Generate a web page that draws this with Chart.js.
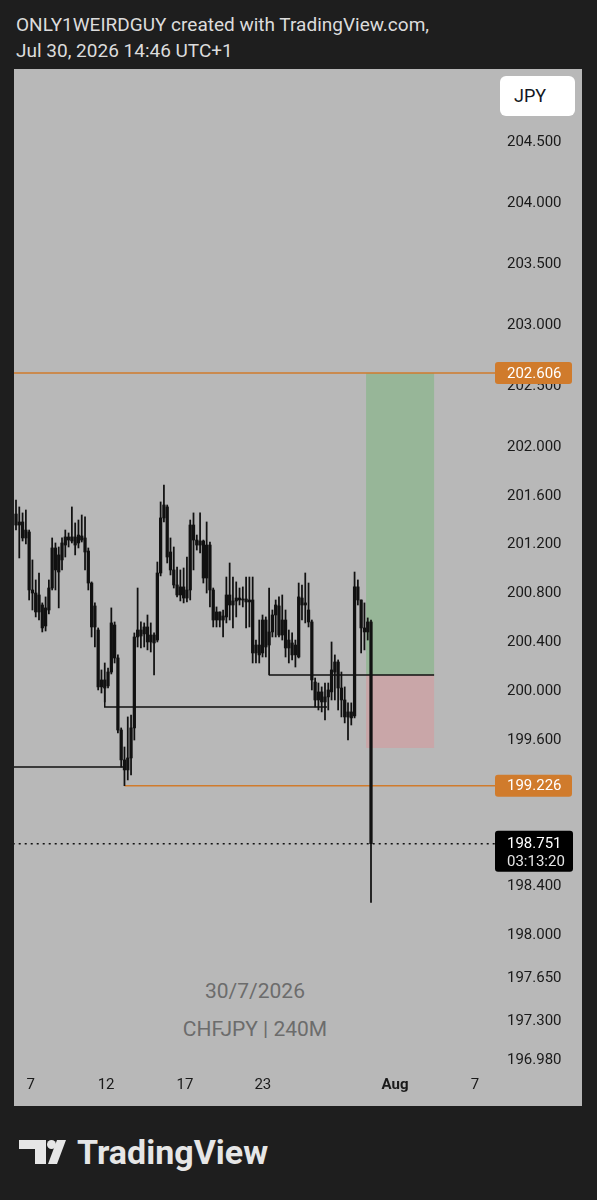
<!DOCTYPE html>
<html>
<head>
<meta charset="UTF-8">
<title>CHFJPY 240M</title>
<script src="https://cdn.jsdelivr.net/npm/chart.js@4.4.1/dist/chart.umd.min.js"></script>
<style>
  body { margin: 0; width: 597px; height: 1200px; overflow: hidden; background: #1e1e1e; font-family: Roboto, "Noto Sans", sans-serif; }
  #head { position: absolute; left: 16px; top: 12px; color: #dcdcdc; font-size: 19px; line-height: 26px; }
  #panel { position: absolute; left: 14px; top: 69px; width: 568px; height: 1037px; background: #b8b8b8; }
  #cur { position: absolute; left: 486px; top: 7px; width: 75px; height: 40px; background: #fff; border-radius: 6px;
         font-size: 18px; line-height: 40px; color: #131722; box-sizing: border-box; padding-left: 14px; }
  .wm { position: absolute; left: 0; width: 482px; text-align: center; color: #6c6c6c; font-size: 21px; }
  #chart { position: absolute; left: 0; top: 0; }
  #logo { position: absolute; left: 19px; top: 1140px; }
  #brand { position: absolute; left: 77px; top: 1135px; color: #e6e6e6; font-size: 34px; line-height: 34px; font-weight: bold; }
</style>
</head>
<body>
<div id="head">ONLY1WEIRDGUY created with TradingView.com,<br>Jul 30, 2026 14:46 UTC+1</div>

<div id="panel">
    <div class="wm" style="top: 910px;">30/7/2026</div>
    <div class="wm" style="top: 948px;">CHFJPY | 240M</div>
    <canvas id="chart" width="568" height="1037"></canvas>
    <div id="cur">JPY</div>
</div>

<svg id="logo" width="47" height="24" viewBox="0 0 47 24">
    <path d="M0 0 H27 V24 H16 V9 H0 Z" fill="#e6e6e6"/>
    <circle cx="32.5" cy="4.5" r="4.5" fill="#e6e6e6"/>
    <path d="M38 0 H47 L38 24 H29 Z" fill="#e6e6e6"/>
</svg>
<div id="brand">TradingView</div>

<script>
    // 4h candles, index 0 = first visible bar
    const opens = [201.451, 201.361, 201.386, 201.255, 201.304, 200.829, 200.804, 200.649, 200.706, 200.534,
        200.665, 200.845, 201.173, 200.976, 201.075, 201.197, 201.263, 201.230, 201.263, 201.214,
        201.271, 201.255, 201.148, 200.886, 200.526, 200.501, 200.035, 200.092, 200.043, 200.157,
        200.542, 200.272, 199.682, 199.437, 199.355, 199.453, 199.699, 200.444, 200.501, 200.469,
        200.526, 200.403, 200.460, 200.419, 200.968, 201.419, 201.509, 201.140, 200.993, 200.870,
        200.788, 200.854, 200.763, 200.829, 201.361, 201.238, 201.197, 201.230, 200.927, 201.197,
        200.829, 200.583, 200.649, 200.583, 200.608, 200.788, 200.706, 200.739, 200.763, 200.747,
        200.755, 200.731, 200.747, 200.313, 200.378, 200.313, 200.583, 200.378, 200.485, 200.624,
        200.698, 200.460, 200.583, 200.354, 200.395, 200.297, 200.280, 200.763, 200.706, 200.665,
        200.567, 200.075, 199.928, 199.994, 199.912, 199.953, 199.994, 200.157, 200.239, 200.026,
        199.928, 199.789, 199.830, 199.797, 200.854, 200.747, 200.518, 200.485, 200.567];
    const highs = [201.566, 201.509, 201.460, 201.484, 201.320, 201.075, 200.911, 200.968, 200.723, 200.772,
        200.911, 201.255, 201.214, 201.181, 201.255, 201.320, 201.296, 201.509, 201.378, 201.402,
        201.443, 201.427, 201.173, 200.895, 200.723, 200.518, 200.174, 200.231, 200.190, 200.682,
        200.567, 200.297, 199.699, 199.543, 199.789, 199.805, 200.477, 200.845, 200.567, 200.559,
        200.624, 200.559, 200.477, 201.058, 201.550, 201.689, 201.525, 201.255, 201.181, 201.017,
        200.993, 201.009, 201.099, 201.402, 201.460, 201.279, 201.460, 201.238, 201.386, 201.222,
        200.845, 200.690, 200.649, 200.665, 200.935, 201.050, 200.935, 200.895, 200.845, 200.854,
        200.935, 200.935, 200.935, 200.419, 200.583, 200.624, 200.608, 200.845, 200.665, 200.747,
        200.772, 200.788, 200.665, 200.501, 200.477, 200.419, 200.886, 200.870, 200.968, 200.886,
        200.583, 200.108, 200.067, 200.035, 200.067, 200.067, 200.403, 200.297, 200.256, 200.157,
        200.035, 199.904, 199.904, 200.976, 200.911, 200.747, 200.723, 200.600, 200.583];
    const lows = [201.320, 201.091, 201.230, 201.206, 200.747, 200.665, 200.608, 200.583, 200.485, 200.493,
        200.633, 200.829, 200.829, 200.682, 200.993, 201.099, 201.181, 201.214, 201.116, 201.173,
        201.222, 200.993, 200.829, 200.444, 200.362, 200.010, 199.985, 199.912, 200.026, 200.141,
        200.231, 199.658, 199.379, 199.226, 199.273, 199.314, 199.600, 200.362, 200.354, 200.362,
        200.338, 200.321, 200.133, 200.403, 200.944, 201.386, 201.050, 200.952, 200.845, 200.772,
        200.739, 200.723, 200.731, 200.747, 200.993, 201.156, 201.132, 200.886, 200.804, 200.690,
        200.526, 200.526, 200.526, 200.444, 200.559, 200.583, 200.518, 200.608, 200.706, 200.690,
        200.518, 200.526, 200.231, 200.231, 200.231, 200.280, 200.280, 200.133, 200.444, 200.444,
        200.444, 200.419, 200.280, 200.231, 200.256, 200.198, 200.272, 200.583, 200.559, 200.526,
        200.010, 199.871, 199.846, 199.830, 199.764, 199.846, 199.928, 199.928, 199.846, 199.789,
        199.740, 199.600, 199.723, 199.781, 200.706, 200.313, 200.338, 200.419, 198.270];
    const closes = [201.361, 201.386, 201.255, 201.320, 200.829, 200.804, 200.649, 200.788, 200.518, 200.682,
        200.845, 201.173, 200.993, 201.116, 201.214, 201.263, 201.238, 201.263, 201.197, 201.279,
        201.238, 201.140, 200.886, 200.526, 200.698, 200.035, 200.092, 200.026, 200.157, 200.559,
        200.272, 199.682, 199.437, 199.355, 199.453, 199.699, 200.444, 200.501, 200.452, 200.526,
        200.403, 200.460, 200.395, 200.968, 201.419, 201.525, 201.099, 200.993, 200.870, 200.788,
        200.854, 200.763, 200.829, 201.361, 201.238, 201.197, 201.230, 200.927, 201.197, 200.829,
        200.583, 200.649, 200.583, 200.616, 200.788, 200.706, 200.739, 200.763, 200.747, 200.755,
        200.731, 200.747, 200.313, 200.378, 200.297, 200.583, 200.362, 200.485, 200.624, 200.706,
        200.460, 200.583, 200.354, 200.419, 200.297, 200.378, 200.772, 200.706, 200.723, 200.567,
        200.092, 199.928, 199.994, 199.912, 199.953, 200.010, 200.174, 200.239, 200.026, 199.928,
        199.789, 199.830, 199.781, 200.854, 200.747, 200.518, 200.485, 200.567, 198.751];

    // price scale labels
    const priceTicks = [204.5, 204, 203.5, 203, 202.5, 202, 201.6, 201.2, 200.8, 200.4, 200, 199.6,
        198.4, 198, 197.65, 197.3, 196.98];
    // date labels (bar index where each date falls)
    const dateTickPos = [4.5, 27.4, 51.4, 75.1, 115.3, 139.6];
    const dateTickText = ['7', '12', '17', '23', 'Aug', '7'];

    // drawings
    const levelA = [[-1, 199.379], [33, 199.379]];
    const levelB = [[27, 200.035], [27, 199.871], [94.6, 199.871]];
    const levelC = [[77, 200.133], [127.2, 200.133]];
    const targetPrice = 202.606;
    const lowPrice = 199.226;
    const lowStart = 33;
    const lastPrice = 198.751;
    const countdown = '03:13:20';
    const posBars = [106.5, 127.2];      // long position tool: start / end bar
    const posEntry = 200.133;
    const posStop = 199.535;

    const INK = '#111111';
    const ORANGE = '#d07b2c';

    function pts(arr) {
        return arr.map(p => ({ x: p[0], y: p[1] }));
    }

    function lineSet(data, color, width, extra) {
        return Object.assign({
            type: 'line', data: data, borderColor: color, borderWidth: width,
            pointRadius: 0, tension: 0, fill: false
        }, extra || {});
    }

    function noPad(s) {
        s.paddingTop = 0;
        s.paddingBottom = 0;
        s.paddingLeft = 0;
        s.paddingRight = 0;
    }

    const overlay = {
        id: 'overlay',
        beforeDatasetsDraw(chart) {
            const { ctx, scales: { x, y } } = chart;
            const l = x.getPixelForValue(posBars[0]);
            const r = x.getPixelForValue(posBars[1]);
            const t = y.getPixelForValue(targetPrice);
            const e = y.getPixelForValue(posEntry);
            const s = y.getPixelForValue(posStop);
            ctx.save();
            ctx.fillStyle = '#97b698';
            ctx.fillRect(l, t, r - l, e - t);
            ctx.fillStyle = '#c9a6a8';
            ctx.fillRect(l, e, r - l, s - e);
            ctx.restore();
        },
        afterDraw(chart) {
            const { ctx, chartArea, scales: { y } } = chart;
            const lx = chartArea.right + 5;
            ctx.save();
            // lowest price label is cut by the time axis
            ctx.fillStyle = '#b8b8b8';
            ctx.fillRect(chartArea.right, chartArea.bottom - 1, chart.width - chartArea.right, 14);

            ctx.font = '15px Roboto';
            ctx.textBaseline = 'middle';
            ctx.textAlign = 'left';
            [targetPrice, lowPrice].forEach(p => {
                const cy = y.getPixelForValue(p);
                ctx.fillStyle = ORANGE;
                ctx.beginPath();
                ctx.roundRect(lx, cy - 11, 77, 22, 3);
                ctx.fill();
                ctx.fillStyle = '#ffffff';
                ctx.fillText(p.toFixed(3), lx + 12, cy + 1);
            });

            const cy = y.getPixelForValue(lastPrice);
            ctx.fillStyle = '#000000';
            ctx.beginPath();
            ctx.roundRect(lx, cy - 13, 78, 41, 3);
            ctx.fill();
            ctx.fillStyle = '#ffffff';
            ctx.fillText(lastPrice.toFixed(3), lx + 12, cy + 1);
            ctx.fillStyle = '#e4e4e4';
            ctx.fillText(countdown, lx + 12, cy + 19);
            ctx.restore();
        }
    };

    Chart.defaults.font.family = 'Roboto';

    new Chart(document.getElementById('chart'), {
        type: 'bar',
        data: {
            datasets: [
                {
                    data: opens.map((o, i) => ({ x: i, y: [o, closes[i]] })),
                    backgroundColor: INK, barThickness: 2.6, minBarLength: 1, grouped: false
                },
                {
                    data: highs.map((h, i) => ({ x: i, y: [lows[i], h] })),
                    backgroundColor: INK, barThickness: 1.1, grouped: false
                },
                lineSet(pts(levelA), INK, 1.5),
                lineSet(pts(levelB), INK, 1.5),
                lineSet(pts(levelC), INK, 1.5),
                lineSet([{ x: -1, y: targetPrice }, { x: 146, y: targetPrice }], ORANGE, 1.5, { clip: false }),
                lineSet([{ x: lowStart, y: lowPrice }, { x: 146, y: lowPrice }], ORANGE, 1.5, { clip: false }),
                lineSet([{ x: -1, y: lastPrice }, { x: 146, y: lastPrice }], INK, 1.5, { clip: false, borderDash: [2, 4] })
            ]
        },
        options: {
            responsive: false,
            animation: false,
            layout: { padding: 0, autoPadding: false },
            plugins: { legend: { display: false }, tooltip: { enabled: false } },
            scales: {
                x: {
                    type: 'linear', offset: false, min: -0.608, max: 144.2,
                    grid: { display: false, drawTicks: false, tickLength: 0 },
                    border: { display: false },
                    afterBuildTicks: s => { s.ticks = dateTickPos.map(v => ({ value: v })); },
                    afterFit: s => { s.height = 40; noPad(s); },
                    ticks: {
                        autoSkip: false, maxRotation: 0, padding: 10, color: '#1a1a1a',
                        font: c => ({ size: 15, weight: c.index === 4 ? 'bold' : 'normal' }),
                        callback: (v, i) => dateTickText[i]
                    }
                },
                y: {
                    position: 'right', min: 196.930, max: 205.096,
                    grid: { display: false, drawTicks: false, tickLength: 0 },
                    border: { display: false },
                    afterBuildTicks: s => { s.ticks = priceTicks.map(v => ({ value: v })); },
                    afterFit: s => { s.width = 92; noPad(s); },
                    ticks: {
                        padding: 17, color: '#1a1a1a', font: { size: 15 },
                        callback: v => v.toFixed(3)
                    }
                }
            }
        },
        plugins: [overlay]
    });
</script>
</body>
</html>
